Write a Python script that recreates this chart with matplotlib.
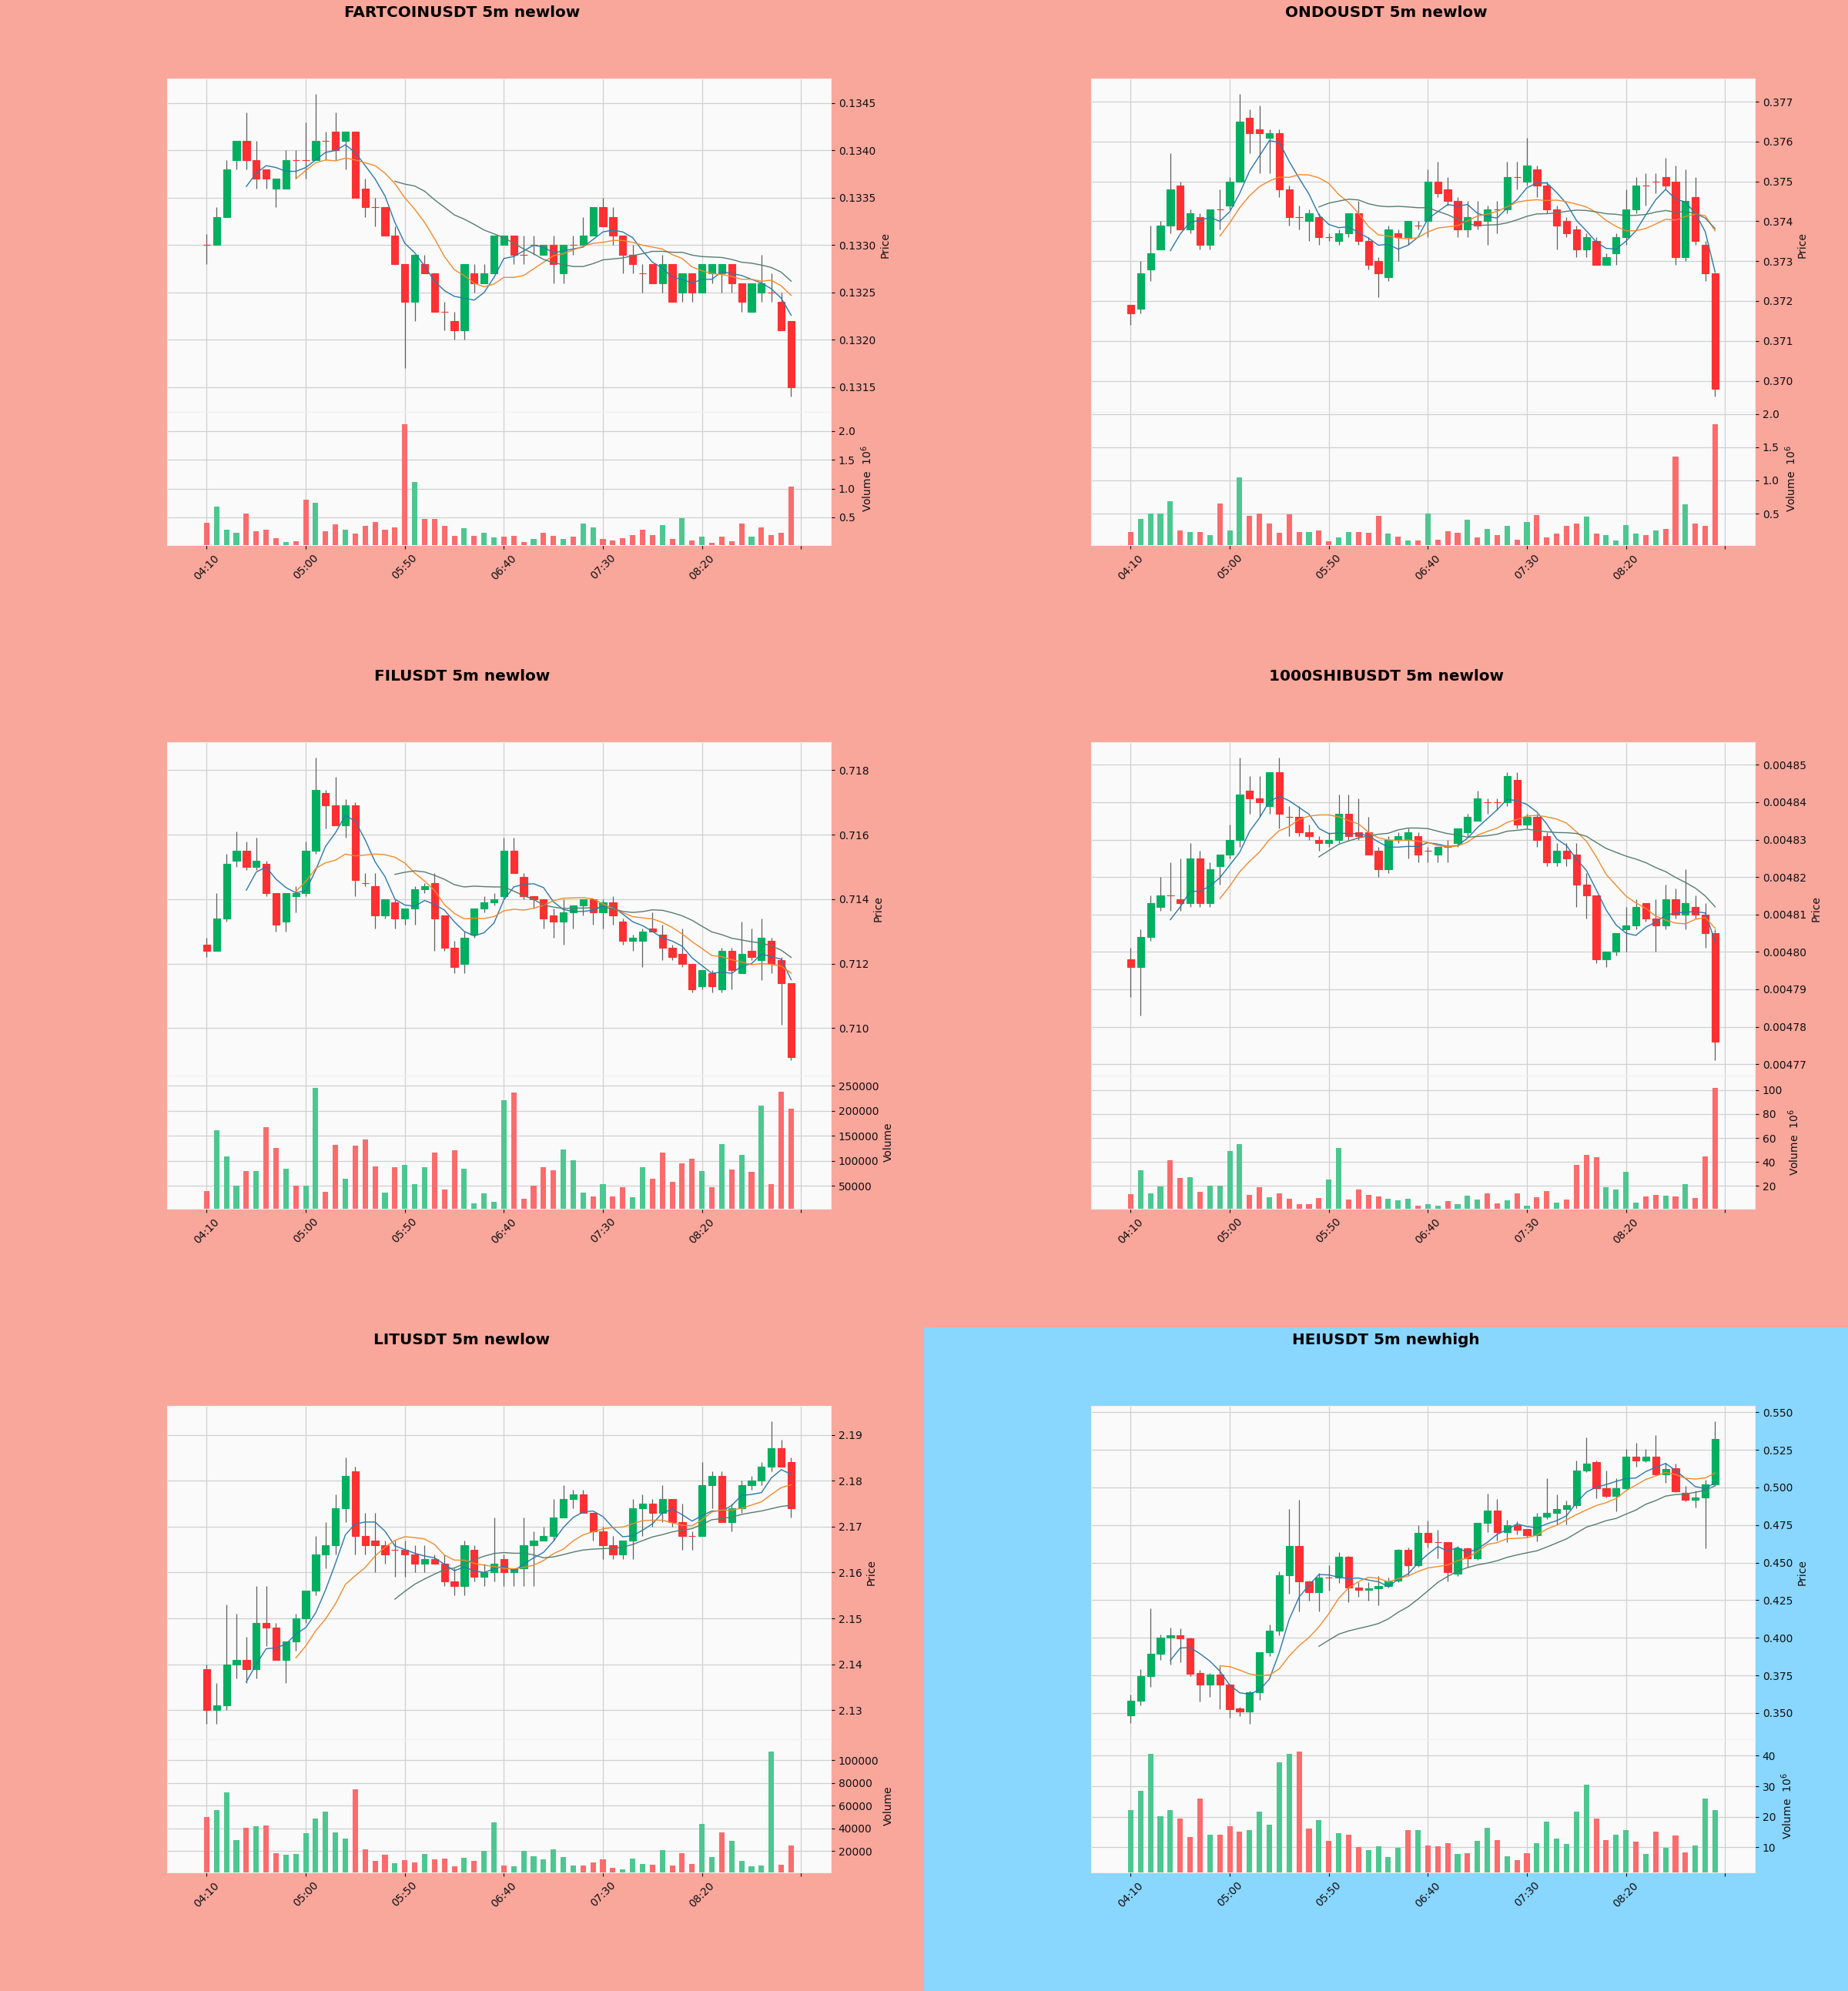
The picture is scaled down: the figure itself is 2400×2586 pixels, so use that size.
import numpy as np
import pandas as pd
import matplotlib
matplotlib.use('Agg')
from matplotlib import pyplot as plt
from matplotlib.ticker import ScalarFormatter

# 5 minute bars, 04:10 .. 09:05
times = pd.date_range('2024-01-01 04:10', periods=60, freq='5min')

# ---------------- FARTCOINUSDT ----------------
fart_open = [0.1330,0.1330,0.1333,0.1339,0.1341,0.1339,0.1338,0.1336,0.1336,0.1339,
             0.1339,0.1339,0.1341,0.1342,0.1341,0.1342,0.1336,0.1334,0.1334,0.1331,
             0.1328,0.1324,0.1328,0.1327,0.1323,0.1322,0.1321,0.1327,0.1326,0.1327,
             0.1330,0.1331,0.1329,0.1330,0.1329,0.1330,0.1327,0.1330,0.1330,0.1331,
             0.1334,0.1333,0.1331,0.1329,0.1327,0.1328,0.1326,0.1328,0.1325,0.1327,
             0.1325,0.1327,0.1327,0.1328,0.1326,0.1323,0.1325,0.1325,0.1324,0.1322]
fart_high = [0.13312,0.1334,0.1339,0.1341,0.1344,0.1341,0.1338,0.1337,0.1340,0.1340,
             0.1343,0.1346,0.1342,0.1344,0.1342,0.1342,0.1337,0.1335,0.1334,0.1332,
             0.1328,0.1329,0.1329,0.1327,0.1324,0.1323,0.1328,0.1328,0.1328,0.1331,
             0.1331,0.1331,0.1331,0.1331,0.1330,0.1331,0.1330,0.1331,0.1333,0.1334,
             0.1335,0.1334,0.1331,0.1330,0.1328,0.1328,0.1329,0.1328,0.1327,0.1327,
             0.1328,0.1328,0.1328,0.1328,0.1326,0.1326,0.1329,0.1327,0.1325,0.1322]
fart_low = [0.1328,0.1330,0.1333,0.1338,0.1338,0.1336,0.1336,0.1334,0.1336,0.1337,
            0.1337,0.1339,0.1339,0.1339,0.1338,0.1335,0.1333,0.1332,0.1331,0.1328,
            0.1317,0.1322,0.1327,0.1323,0.1321,0.1320,0.1320,0.1325,0.1326,0.1327,
            0.1330,0.1328,0.1328,0.1329,0.1329,0.1326,0.1326,0.1329,0.1330,0.1331,
            0.1332,0.1330,0.1327,0.1327,0.1325,0.1326,0.1325,0.1324,0.1324,0.1324,
            0.1325,0.1326,0.1325,0.1325,0.1323,0.1323,0.1324,0.1324,0.1321,0.1314]
fart_close = [0.1330,0.1333,0.1338,0.1341,0.1339,0.1337,0.1337,0.1337,0.1339,0.1339,
              0.1339,0.1341,0.1341,0.1340,0.1342,0.1335,0.1334,0.1334,0.1331,0.1328,
              0.1324,0.1329,0.1327,0.1323,0.1323,0.1321,0.1328,0.1326,0.1327,0.1331,
              0.1331,0.1329,0.1329,0.1330,0.1330,0.1328,0.1330,0.1330,0.1331,0.1334,
              0.1332,0.1331,0.1329,0.1328,0.1327,0.1326,0.1328,0.1324,0.1327,0.1325,
              0.1328,0.1328,0.1328,0.1326,0.1324,0.1326,0.1326,0.1325,0.1321,0.1315]
fart_vol = [0.40,0.68,0.28,0.23,0.57,0.26,0.29,0.14,0.07,0.08,
            0.81,0.75,0.26,0.38,0.29,0.22,0.35,0.42,0.29,0.32,
            2.12,1.11,0.47,0.47,0.35,0.18,0.31,0.18,0.23,0.15,
            0.17,0.18,0.07,0.12,0.23,0.18,0.12,0.16,0.39,0.32,
            0.12,0.10,0.14,0.19,0.28,0.19,0.37,0.13,0.49,0.10,
            0.16,0.06,0.16,0.08,0.39,0.16,0.33,0.19,0.23,1.03]

# ---------------- ONDOUSDT ----------------
ondo_open = [0.3719,0.3718,0.3728,0.3733,0.3739,0.3749,0.3738,0.3741,0.3734,0.3743,
             0.3744,0.3750,0.3766,0.3763,0.3761,0.3762,0.3748,0.3741,0.3740,0.3741,
             0.3736,0.3735,0.3737,0.3742,0.3735,0.3730,0.3726,0.3737,0.3736,0.3739,
             0.3740,0.3750,0.3748,0.3745,0.3738,0.3740,0.3740,0.3743,0.3743,0.3751,
             0.3750,0.3753,0.3749,0.3743,0.3740,0.3738,0.3733,0.3735,0.3729,0.3732,
             0.3736,0.3743,0.3749,0.3750,0.3751,0.3750,0.3731,0.3746,0.3734,0.3727]
ondo_high = [0.3719,0.3730,0.3739,0.3740,0.3757,0.3750,0.3743,0.3742,0.3743,0.3748,
             0.3751,0.3772,0.3768,0.3769,0.3763,0.3763,0.3749,0.3744,0.3743,0.3742,
             0.3737,0.3738,0.3742,0.3745,0.3736,0.3731,0.3739,0.3738,0.3740,0.3740,
             0.3753,0.3755,0.3751,0.3746,0.3745,0.3745,0.3744,0.3745,0.3755,0.3755,
             0.3761,0.3754,0.3750,0.3744,0.3741,0.3739,0.3737,0.3736,0.3732,0.3737,
             0.3748,0.3751,0.3752,0.3752,0.3756,0.3754,0.3753,0.3751,0.3735,0.3727]
ondo_low = [0.3714,0.3717,0.3725,0.3733,0.3737,0.3738,0.3737,0.3733,0.3733,0.3738,
            0.3743,0.3750,0.3757,0.3752,0.3752,0.3746,0.3739,0.3738,0.3735,0.3734,
            0.3735,0.3734,0.3736,0.3734,0.3728,0.3721,0.3725,0.3730,0.3734,0.3738,
            0.3736,0.3746,0.3744,0.3736,0.3736,0.3738,0.3734,0.3737,0.3742,0.3748,
            0.3749,0.3746,0.3742,0.3733,0.3736,0.3731,0.3731,0.3729,0.3729,0.3729,
            0.3734,0.3742,0.3744,0.3747,0.3748,0.3729,0.3730,0.3734,0.3725,0.3696]
ondo_close = [0.3717,0.3727,0.3732,0.3739,0.3748,0.3738,0.3742,0.3734,0.3743,0.3743,
              0.3750,0.3765,0.3762,0.3762,0.3762,0.3748,0.3741,0.3741,0.3742,0.3736,
              0.3736,0.3737,0.3742,0.3735,0.3729,0.3727,0.3738,0.3736,0.3740,0.3739,
              0.3750,0.3747,0.3745,0.3738,0.3741,0.3739,0.3743,0.3743,0.3751,0.3751,
              0.3754,0.3749,0.3743,0.3739,0.3737,0.3733,0.3736,0.3729,0.3731,0.3736,
              0.3743,0.3749,0.3749,0.3750,0.3749,0.3731,0.3745,0.3735,0.3727,0.3698]
ondo_vol = [0.22,0.42,0.50,0.50,0.69,0.25,0.22,0.22,0.17,0.65,
            0.25,1.05,0.46,0.50,0.35,0.21,0.49,0.22,0.22,0.24,
            0.08,0.14,0.22,0.22,0.21,0.46,0.20,0.15,0.09,0.09,
            0.50,0.10,0.23,0.21,0.41,0.14,0.27,0.18,0.31,0.10,
            0.37,0.48,0.14,0.20,0.31,0.35,0.45,0.20,0.18,0.09,
            0.33,0.20,0.17,0.24,0.27,1.36,0.64,0.35,0.31,1.85]

# ---------------- FILUSDT ----------------
fil_open = [0.7126,0.7124,0.7134,0.7152,0.7155,0.7150,0.7151,0.7142,0.7133,0.7141,
            0.7142,0.7155,0.7173,0.7169,0.7163,0.7169,0.7145,0.7144,0.7135,0.7139,
            0.7134,0.7137,0.7143,0.7145,0.7135,0.7125,0.7120,0.7129,0.7137,0.7139,
            0.7141,0.7155,0.7147,0.7141,0.7140,0.7135,0.7133,0.7136,0.7138,0.7140,
            0.7136,0.7139,0.7133,0.7127,0.7127,0.7131,0.7129,0.7125,0.7123,0.7120,
            0.7113,0.7117,0.7112,0.7124,0.7117,0.7124,0.7121,0.7127,0.7121,0.7114]
fil_high = [0.7128,0.7142,0.7154,0.7161,0.7158,0.7159,0.7152,0.7142,0.7142,0.7144,
            0.7158,0.7184,0.7174,0.7178,0.7171,0.7170,0.7148,0.7148,0.7140,0.7140,
            0.7137,0.7144,0.7145,0.7148,0.7135,0.7127,0.7130,0.7137,0.7141,0.7142,
            0.7159,0.7159,0.7148,0.7141,0.7140,0.7137,0.7140,0.7138,0.7140,0.7140,
            0.7140,0.7141,0.7134,0.7129,0.7131,0.7136,0.7132,0.7126,0.7131,0.7120,
            0.7118,0.7118,0.7125,0.7125,0.7133,0.7131,0.7134,0.7128,0.7122,0.7114]
fil_low = [0.7122,0.7124,0.7133,0.7150,0.7149,0.7149,0.7141,0.7130,0.7130,0.7136,
           0.7141,0.7154,0.7162,0.7163,0.7159,0.7141,0.7144,0.7131,0.7134,0.7131,
           0.7132,0.7132,0.7142,0.7124,0.7124,0.7117,0.7117,0.7128,0.7136,0.7138,
           0.7140,0.7148,0.7140,0.7137,0.7131,0.7128,0.7126,0.7131,0.7135,0.7132,
           0.7131,0.7132,0.7126,0.7124,0.7119,0.7130,0.7121,0.7121,0.7119,0.7111,
           0.7112,0.7111,0.7111,0.7112,0.7117,0.7121,0.7115,0.7117,0.7101,0.7090]
fil_close = [0.7124,0.7134,0.7151,0.7155,0.7150,0.7152,0.7142,0.7132,0.7142,0.7142,
             0.7155,0.7174,0.7169,0.7163,0.7169,0.7146,0.7145,0.7135,0.7140,0.7134,
             0.7137,0.7143,0.7144,0.7134,0.7125,0.7119,0.7128,0.7137,0.7139,0.7140,
             0.7155,0.7148,0.7141,0.7140,0.7134,0.7133,0.7136,0.7138,0.7140,0.7136,
             0.7139,0.7135,0.7127,0.7128,0.7130,0.7130,0.7125,0.7122,0.7120,0.7112,
             0.7118,0.7113,0.7124,0.7118,0.7123,0.7122,0.7128,0.7120,0.7114,0.7091]
fil_vol = [40000,161700,108700,50000,80000,80000,166800,126600,83800,50000,
           50000,246000,38500,131700,64000,129800,142600,88300,36000,87000,
           91500,53200,87000,117000,43600,121500,83800,15000,35300,18000,
           221100,236400,24500,50000,87000,81900,123400,101100,36000,29000,
           53200,29000,46800,27700,87000,64700,117000,57700,94700,104300,
           80000,46800,133000,83200,111900,78700,210900,53200,238400,204500]

# ---------------- 1000SHIBUSDT ----------------
shib_open = [0.004798,0.004796,0.004804,0.004812,0.004815,0.004814,0.004813,0.004825,0.004813,0.004823,
             0.004826,0.004830,0.004843,0.004841,0.004839,0.004848,0.004836,0.004836,0.004832,0.004830,
             0.004829,0.004830,0.004837,0.004832,0.004832,0.004827,0.004822,0.004830,0.004830,0.004831,
             0.004827,0.004826,0.004828,0.004829,0.004832,0.004835,0.004840,0.004840,0.004840,0.004846,
             0.004834,0.004836,0.004831,0.004824,0.004827,0.004826,0.004818,0.004815,0.004798,0.004800,
             0.004806,0.004807,0.004813,0.004809,0.004807,0.004814,0.004810,0.004812,0.004810,0.004805]
shib_high = [0.004801,0.004806,0.004815,0.004820,0.004824,0.004825,0.004829,0.004827,0.004824,0.004826,
             0.004834,0.004852,0.004847,0.004847,0.004848,0.004852,0.004839,0.004839,0.004834,0.004831,
             0.004832,0.004842,0.004842,0.004841,0.004836,0.004828,0.004831,0.004832,0.004833,0.004832,
             0.004828,0.004828,0.004830,0.004833,0.004837,0.004843,0.004841,0.004841,0.004848,0.004848,
             0.004837,0.004837,0.004832,0.004829,0.004829,0.004829,0.004821,0.004815,0.004800,0.004805,
             0.004812,0.004814,0.004813,0.004814,0.004818,0.004817,0.004822,0.004815,0.004813,0.004806]
shib_low = [0.004788,0.004783,0.004803,0.004811,0.004811,0.004811,0.004812,0.004812,0.004812,0.004818,
            0.004825,0.004828,0.004837,0.004836,0.004837,0.004833,0.004831,0.004831,0.004830,0.004827,
            0.004828,0.004829,0.004830,0.004830,0.004826,0.004820,0.004821,0.004829,0.004825,0.004824,
            0.004824,0.004824,0.004824,0.004828,0.004831,0.004835,0.004837,0.004838,0.004839,0.004833,
            0.004833,0.004828,0.004823,0.004823,0.004823,0.004812,0.004809,0.004797,0.004796,0.004799,
            0.004800,0.004806,0.004808,0.004800,0.004806,0.004809,0.004806,0.004809,0.004801,0.004771]
shib_close = [0.004796,0.004804,0.004813,0.004815,0.004815,0.004813,0.004825,0.004813,0.004822,0.004826,
              0.004830,0.004842,0.004841,0.004840,0.004848,0.004837,0.004836,0.004832,0.004831,0.004829,
              0.004830,0.004837,0.004831,0.004831,0.004826,0.004822,0.004830,0.004831,0.004832,0.004826,
              0.004827,0.004828,0.004828,0.004833,0.004836,0.004841,0.004840,0.004840,0.004847,0.004834,
              0.004836,0.004830,0.004824,0.004827,0.004825,0.004818,0.004815,0.004798,0.004800,0.004805,
              0.004807,0.004812,0.004809,0.004807,0.004814,0.004810,0.004813,0.004810,0.004805,0.004776]
shib_vol = [13.3,32.8,14.1,19.5,41.3,26.7,27.5,15.2,20.5,20.5,
            48.8,55.2,12.8,19.2,10.7,14.1,9.3,4.8,4.8,10.1,
            25.3,52.0,8.8,17.3,12.8,11.5,9.3,8.0,9.3,3.5,
            4.8,3.2,7.2,4.8,12.0,8.8,13.9,5.3,8.0,13.9,
            3.2,10.7,16.0,5.9,8.8,37.3,46.1,44.0,18.7,16.8,
            32.0,5.9,11.5,12.5,12.0,11.5,21.3,9.9,44.5,101.9]

# ---------------- LITUSDT ----------------
lit_open = [2.139,2.130,2.131,2.140,2.141,2.139,2.149,2.148,2.141,2.145,
            2.150,2.156,2.164,2.166,2.174,2.182,2.168,2.167,2.166,2.165,
            2.165,2.164,2.162,2.163,2.162,2.158,2.157,2.165,2.159,2.160,
            2.163,2.160,2.161,2.166,2.167,2.168,2.172,2.176,2.177,2.173,
            2.169,2.166,2.164,2.167,2.174,2.175,2.173,2.176,2.171,2.168,
            2.168,2.179,2.181,2.171,2.174,2.179,2.180,2.183,2.187,2.184]
lit_high = [2.140,2.136,2.153,2.151,2.146,2.157,2.157,2.149,2.145,2.151,
            2.156,2.168,2.171,2.177,2.185,2.183,2.173,2.173,2.167,2.167,
            2.167,2.166,2.166,2.164,2.164,2.161,2.167,2.166,2.162,2.172,
            2.164,2.161,2.172,2.169,2.170,2.176,2.179,2.178,2.178,2.173,
            2.170,2.168,2.167,2.176,2.177,2.176,2.179,2.176,2.175,2.169,
            2.184,2.182,2.182,2.175,2.180,2.181,2.184,2.193,2.189,2.185]
lit_low = [2.127,2.127,2.130,2.137,2.136,2.137,2.144,2.141,2.136,2.143,
           2.149,2.155,2.161,2.164,2.171,2.164,2.164,2.160,2.162,2.159,
           2.159,2.160,2.160,2.162,2.157,2.155,2.155,2.158,2.157,2.158,
           2.157,2.157,2.157,2.157,2.167,2.167,2.172,2.174,2.173,2.167,
           2.163,2.163,2.163,2.163,2.168,2.170,2.171,2.170,2.165,2.165,
           2.168,2.174,2.171,2.169,2.173,2.178,2.179,2.182,2.183,2.172]
lit_close = [2.130,2.131,2.140,2.141,2.139,2.149,2.148,2.141,2.145,2.150,
             2.156,2.164,2.166,2.174,2.181,2.168,2.166,2.166,2.164,2.165,
             2.164,2.162,2.163,2.162,2.158,2.157,2.166,2.159,2.160,2.162,
             2.160,2.161,2.166,2.167,2.168,2.172,2.176,2.177,2.173,2.169,
             2.166,2.164,2.167,2.174,2.175,2.173,2.176,2.171,2.168,2.168,
             2.179,2.181,2.171,2.174,2.179,2.180,2.183,2.187,2.183,2.174]
lit_vol = [49700,55900,71700,29300,40400,42000,42600,18000,16600,17200,
           35500,48300,54500,36400,30700,74300,21400,11500,16600,9300,
           12100,10100,17200,12400,13500,6400,13800,11500,20000,44900,
           7300,6700,20000,15200,12400,21400,14300,7300,7300,10100,
           12400,5000,3600,13500,8700,8100,20800,7300,18000,8700,
           43500,14300,36400,29000,11000,6400,7300,107600,8100,25100]

# ---------------- HEIUSDT ----------------
hei_open = [0.3483,0.3580,0.3746,0.3896,0.4003,0.4018,0.3997,0.3768,0.3689,0.3757,
            0.3689,0.3532,0.3511,0.3639,0.3902,0.4046,0.4414,0.4612,0.4377,0.4302,
            0.4399,0.4399,0.4538,0.4334,0.4317,0.4330,0.4345,0.4380,0.4585,0.4484,
            0.4698,0.4634,0.4634,0.4425,0.4595,0.4531,0.4766,0.4848,0.4702,0.4751,
            0.4724,0.4681,0.4805,0.4831,0.4858,0.4884,0.5115,0.5169,0.4993,0.4944,
            0.4993,0.5205,0.5179,0.5207,0.5087,0.5130,0.4965,0.4916,0.4933,0.5019]
hei_high = [0.3624,0.3789,0.4195,0.4024,0.4067,0.4063,0.3999,0.3785,0.3768,0.3810,
            0.3689,0.3540,0.3650,0.3902,0.4088,0.4442,0.4858,0.4916,0.4380,0.4432,
            0.4484,0.4570,0.4543,0.4370,0.4370,0.4409,0.4398,0.4591,0.4602,0.4751,
            0.4779,0.4720,0.4634,0.4608,0.4600,0.4766,0.4959,0.4923,0.4783,0.4772,
            0.4725,0.4831,0.5062,0.4955,0.4914,0.5179,0.5335,0.5180,0.5115,0.5061,
            0.5258,0.5297,0.5255,0.5346,0.5165,0.5157,0.5008,0.4980,0.5050,0.5442]
hei_low = [0.3432,0.3548,0.3671,0.3853,0.3824,0.3835,0.3746,0.3575,0.3607,0.3526,
           0.3468,0.3479,0.3426,0.3585,0.3880,0.4018,0.4292,0.4174,0.4248,0.4174,
           0.4313,0.4366,0.4238,0.4270,0.4249,0.4217,0.4334,0.4370,0.4409,0.4470,
           0.4601,0.4531,0.4376,0.4410,0.4466,0.4520,0.4702,0.4646,0.4637,0.4687,
           0.4666,0.4640,0.4790,0.4752,0.4752,0.4860,0.5100,0.4929,0.4934,0.4843,
           0.4990,0.5136,0.5170,0.5083,0.5030,0.4970,0.4908,0.4869,0.4595,0.5010]
hei_close = [0.3580,0.3746,0.3896,0.4003,0.4018,0.3997,0.3761,0.3689,0.3757,0.3689,
             0.3526,0.3511,0.3639,0.3902,0.4046,0.4414,0.4612,0.4377,0.4302,0.4399,
             0.4399,0.4538,0.4334,0.4317,0.4330,0.4345,0.4377,0.4585,0.4484,0.4698,
             0.4634,0.4634,0.4437,0.4597,0.4527,0.4766,0.4848,0.4702,0.4751,0.4719,
             0.4681,0.4805,0.4831,0.4858,0.4884,0.5115,0.5158,0.4993,0.4944,0.4993,
             0.5205,0.5179,0.5207,0.5087,0.5121,0.4972,0.4916,0.4933,0.5019,0.5323]
hei_vol = [22.2,28.5,40.7,20.1,22.2,19.4,13.4,25.9,14.2,14.0,
           17.0,15.2,15.5,21.8,17.3,37.9,40.5,41.3,16.0,18.9,
           12.1,14.7,14.0,10.0,9.0,10.2,6.7,9.7,15.5,15.5,
           10.5,10.3,11.4,7.9,8.1,12.1,16.5,12.4,7.1,5.8,
           8.1,11.3,18.5,12.9,11.0,21.8,30.5,19.4,12.4,14.0,
           15.5,11.9,7.9,15.2,9.7,13.9,8.2,10.5,25.9,22.2]

titles = ['FARTCOINUSDT 5m newlow', 'ONDOUSDT 5m newlow',
          'FILUSDT 5m newlow', '1000SHIBUSDT 5m newlow',
          'LITUSDT 5m newlow', 'HEIUSDT 5m newhigh']
# volume shown in units of 10^6 (True) or raw (False)
vol_millions = [True, True, False, True, False, True]

panels = [
    (fart_open, fart_high, fart_low, fart_close, fart_vol),
    (ondo_open, ondo_high, ondo_low, ondo_close, ondo_vol),
    (fil_open, fil_high, fil_low, fil_close, fil_vol),
    (shib_open, shib_high, shib_low, shib_close, shib_vol),
    (lit_open, lit_high, lit_low, lit_close, lit_vol),
    (hei_open, hei_high, hei_low, hei_close, hei_vol),
]

LOW_BG = '#F9A69B'
HIGH_BG = '#89D6FF'
UP = '#00b060'
DOWN = '#fe3032'
VUP = '#4dc790'
VDOWN = '#fd6b6c'
WICK = '#606060'
TXT = '#101010'
MAV_COLORS = ['#2a78ad', '#f5892a', '#557d6e']


def style_axis(ax):
    ax.set_facecolor('#fafafa')
    ax.grid(True, color='#d0d0d0', linewidth=0.9)
    ax.set_axisbelow(True)
    for s in ax.spines.values():
        s.set_color('#f0f0f0')
    ax.yaxis.tick_right()
    ax.yaxis.set_label_position('right')
    ax.tick_params(colors=TXT, labelsize=10)


def draw_panel(sfig, title, o, h, l, c, v, millions, bg):
    sfig.set_facecolor(bg)
    sfig.suptitle(title, fontsize=14.4, fontweight='bold', y=0.981, va='center')

    ax = sfig.add_axes([0.1808, 0.3794, 0.7183, 0.5023])
    axv = sfig.add_axes([0.1808, 0.1787, 0.7183, 0.2007], sharex=ax)
    style_axis(ax)
    style_axis(axv)

    o = np.array(o); h = np.array(h); l = np.array(l); c = np.array(c)
    v = np.array(v)
    x = np.arange(len(o))

    # candles
    ccol = np.where(c > o, UP, DOWN)
    ax.vlines(x, l, h, color=WICK, linewidth=0.9, zorder=2)
    ax.bar(x, np.abs(c - o), bottom=np.minimum(o, c), width=0.72,
           color=ccol, edgecolor=ccol, linewidth=0.8, zorder=3)

    # moving averages 5 / 10 / 20
    closes = pd.Series(c)
    for n, col in zip((5, 10, 20), MAV_COLORS):
        ax.plot(x, closes.rolling(n).mean(), color=col, linewidth=1.0, zorder=4)

    pad = 0.05 * (h.max() - l.min())
    ax.set_ylim(l.min() - pad, h.max() + pad)
    ax.yaxis.set_major_formatter(ScalarFormatter(useOffset=False))
    ax.set_ylabel('Price', color=TXT, fontsize=10)
    ax.tick_params(axis='x', labelbottom=False, length=0)

    # volume, coloured by close vs previous close
    vup = np.r_[c[0] > o[0], c[1:] > c[:-1]]
    axv.bar(x, v, width=0.55, color=np.where(vup, VUP, VDOWN), zorder=3)
    axv.set_ylim(0.3 * v.min(), 1.1 * v.max())
    axv.yaxis.set_major_formatter(ScalarFormatter(useOffset=False))
    axv.set_ylabel('Volume  $10^{6}$' if millions else 'Volume', color=TXT, fontsize=10)

    ticks = list(range(0, 61, 10))
    labels = [times[i].strftime('%H:%M') if i < len(times) else '' for i in ticks]
    axv.set_xticks(ticks)
    axv.set_xticklabels(labels)
    axv.tick_params(axis='x', labelrotation=45)
    axv.set_xlim(-4, 63)


fig = plt.figure(figsize=(24, 25.86), dpi=100)
subfigs = fig.subfigures(3, 2, wspace=0, hspace=0)

for k, sf in enumerate(subfigs.flat):
    o, h, l, c, v = panels[k]
    bg = HIGH_BG if titles[k].endswith('newhigh') else LOW_BG
    draw_panel(sf, titles[k], o, h, l, c, v, vol_millions[k], bg)

fig.savefig('out.png', dpi=100)
